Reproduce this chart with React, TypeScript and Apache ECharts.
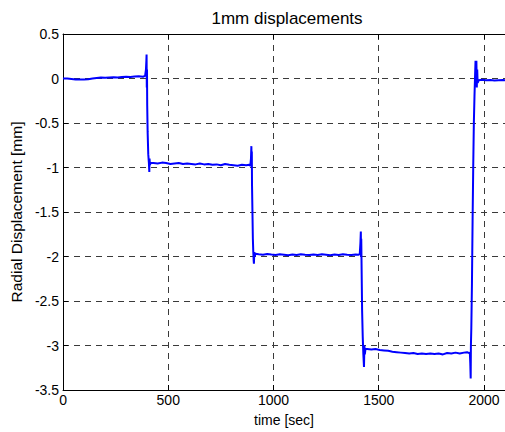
import React, { useEffect, useRef } from "react";
import * as echarts from "echarts";

const titleText = "1mm displacements";
const xName = "time [sec]";
const yName = "Radial Displacement [mm]";

const timeSec = [
  0, 20, 40, 60, 80, 100, 120, 140, 160, 180, 200, 220, 240, 260, 280, 300, 320, 340, 360, 380, 390,
  394, 396, 397, 398, 399, 400, 402, 405, 408, 410, 411, 413, 416,
  430, 450, 470, 490, 510, 530, 550, 570, 590, 610, 630, 650, 670, 690, 710, 730, 750, 770, 790, 810, 830, 850, 870, 885, 890,
  893, 895, 896, 897, 898, 900, 902, 904, 906, 907, 909, 911, 914,
  930, 950, 970, 990, 1010, 1030, 1050, 1070, 1090, 1110, 1130, 1150, 1170, 1190, 1210, 1230, 1250, 1270, 1290, 1310, 1330, 1350, 1370, 1390, 1405,
  1410, 1413, 1415, 1416, 1417, 1419, 1421, 1424, 1427, 1430, 1432, 1434, 1437,
  1445, 1465, 1485, 1505, 1525, 1545, 1565, 1585, 1605, 1625, 1645, 1665, 1685, 1705, 1725, 1745, 1765, 1785, 1805, 1825, 1845, 1865, 1885, 1905, 1920, 1930,
  1933, 1935, 1937, 1938, 1940, 1943, 1946, 1949, 1952, 1955, 1958, 1960, 1962, 1964, 1966, 1968, 1970,
  1975, 1990, 2010, 2030, 2050, 2070, 2090, 2100,
];

const displacementMm = [
  0.0, 0.0, -0.005, -0.01, -0.012, -0.01, -0.008, 0.0, 0.005, 0.01, 0.008, 0.012, 0.015, 0.012, 0.018, 0.02, 0.017, 0.022, 0.025, 0.02, 0.03,
  0.1, 0.2, 0.27, -0.1, 0.1, -0.3, -0.6, -0.85, -0.95, -1.05, -0.9, -0.97, -0.95,
  -0.95, -0.955, -0.945, -0.95, -0.96, -0.955, -0.95, -0.96, -0.955, -0.96, -0.965, -0.955, -0.965, -0.96, -0.97, -0.965, -0.975, -0.96, -0.97, -0.975, -0.98, -0.97, -0.975, -0.97, -0.98,
  -0.9, -0.76, -1.0, -0.82, -1.2, -1.5, -1.8, -1.95, -2.05, -2.08, -1.95, -2.0, -1.97,
  -1.975, -1.98, -1.972, -1.978, -1.982, -1.976, -1.98, -1.985, -1.978, -1.982, -1.975, -1.98, -1.984, -1.978, -1.982, -1.976, -1.98, -1.985, -1.978, -1.982, -1.975, -1.98, -1.983, -1.978, -1.98,
  -1.97, -1.85, -1.72, -2.0, -1.8, -2.2, -2.6, -2.9, -3.1, -3.24, -3.0, -3.1, -3.04,
  -3.04, -3.045, -3.04, -3.05, -3.055, -3.06, -3.07, -3.075, -3.08, -3.085, -3.09, -3.085, -3.095, -3.09, -3.095, -3.09, -3.095, -3.09, -3.1, -3.085, -3.09, -3.08, -3.09, -3.08, -3.075, -3.085,
  -3.08, -3.2, -3.37, -3.0, -2.8, -2.3, -1.6, -1.0, -0.5, -0.2, 0.05, 0.2, 0.05, 0.2, -0.1, 0.1, -0.05,
  -0.02, -0.015, -0.02, -0.018, -0.022, -0.02, -0.018, -0.02,
];

const xMin = 0;
const xMax = 2100;
const xStep = 500;
const yMin = -3.5;
const yMax = 0.5;
const yStep = 0.5;

const FONT = "'Liberation Sans', Arial, Helvetica, sans-serif";

export default function App() {
  const ref = useRef<HTMLDivElement>(null);

  useEffect(() => {
    if (!ref.current) return;
    const chart = echarts.init(ref.current, undefined, { renderer: "svg" });
    const points = timeSec.map((t, i) => [t, displacementMm[i]]);
    const gridDash = { color: "#3a3a3a", width: 1, type: [6, 5] as number[] };
    chart.setOption({
      animation: false,
      backgroundColor: "#ffffff",
      title: {
        text: titleText,
        left: 282,
        top: 5,
        textAlign: "center",
        textStyle: { fontFamily: FONT, fontSize: 17, fontWeight: "normal", color: "#000" },
      },
      grid: { left: 58, top: 34, right: 0, bottom: 38, containLabel: false },
      xAxis: [
        {
          type: "value",
          position: "bottom",
          min: xMin,
          max: xMax,
          interval: xStep,
          name: xName,
          nameLocation: "middle",
          nameGap: 23,
          nameTextStyle: { fontFamily: FONT, fontSize: 14, color: "#000" },
          axisLine: { show: true, onZero: false, lineStyle: { color: "#000", width: 1 } },
          axisTick: { show: true, inside: true, length: 5, lineStyle: { color: "#000" } },
          axisLabel: {
            fontFamily: FONT,
            fontSize: 14,
            color: "#000",
            margin: 3,
            showMaxLabel: false,
            formatter: (v: number) => (v > 2000 ? "" : String(v)),
          },
          splitLine: { show: true, lineStyle: gridDash },
        },
        {
          type: "value",
          position: "top",
          min: xMin,
          max: xMax,
          interval: xStep,
          axisLine: { show: true, onZero: false, lineStyle: { color: "#000", width: 1 } },
          axisTick: { show: true, inside: true, length: 5, lineStyle: { color: "#000" } },
          axisLabel: { show: false },
          splitLine: { show: false },
        },
      ],
      yAxis: [
        {
          type: "value",
          min: yMin,
          max: yMax,
          interval: yStep,
          name: yName,
          nameLocation: "middle",
          nameGap: 39,
          nameTextStyle: { fontFamily: FONT, fontSize: 15.5, color: "#000" },
          axisLine: { show: true, onZero: false, lineStyle: { color: "#000", width: 1 } },
          axisTick: { show: true, inside: true, length: 5, lineStyle: { color: "#000" } },
          axisLabel: { fontFamily: FONT, fontSize: 14, color: "#000", margin: 4 },
          splitLine: { show: true, lineStyle: gridDash },
        },
      ],
      series: [
        {
          type: "line",
          data: points,
          xAxisIndex: 0,
          yAxisIndex: 0,
          showSymbol: false,
          symbol: "none",
          lineStyle: { color: "#0000ff", width: 2 },
          z: 5,
        },
      ],
    });
    return () => chart.dispose();
  }, []);

  return (
    <div
      ref={ref}
      style={{ position: "fixed", left: 0, top: 0, width: 505, height: 432, background: "#fff" }}
    />
  );
}
